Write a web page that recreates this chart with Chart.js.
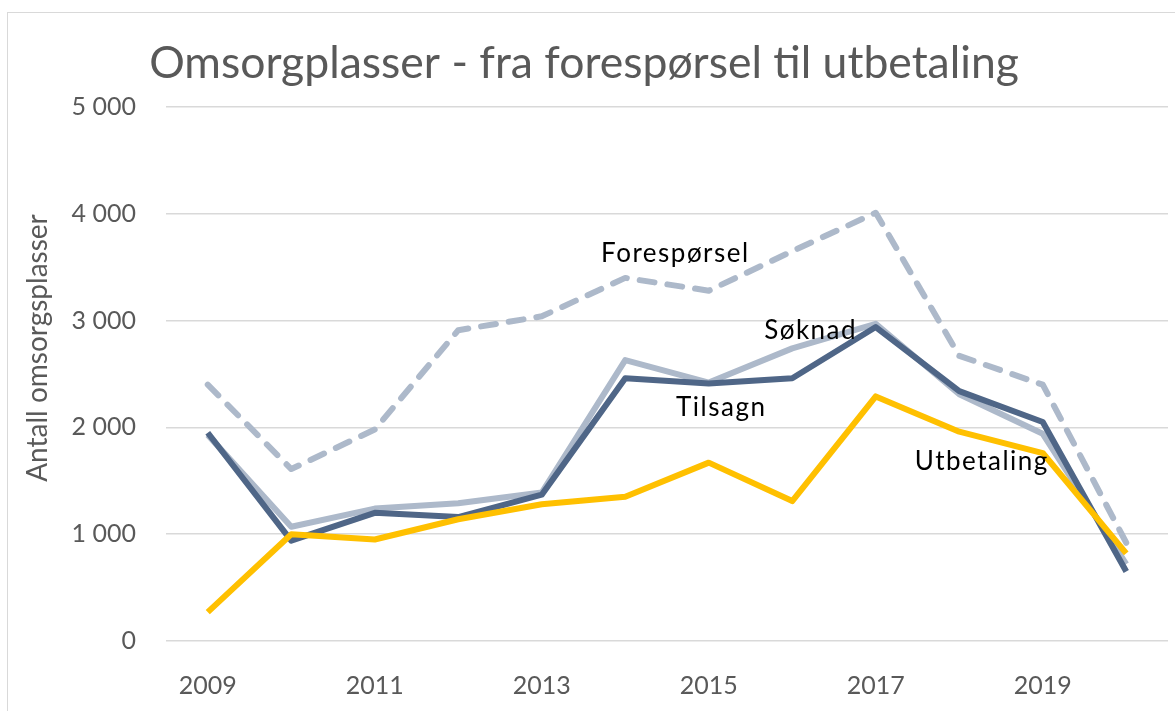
<!DOCTYPE html>
<html lang="nb">
<head>
    <meta charset="UTF-8">
    <title>Omsorgplasser - fra forespørsel til utbetaling</title>
    <script src="https://cdn.jsdelivr.net/npm/chart.js"></script>
    <style>
        html, body { margin: 0; padding: 0; background: #ffffff; overflow: hidden; }
        .frame {
            position: absolute; left: 7px; top: 12px;
            width: 1300px; height: 900px;
            border: 1.5px solid #d9d9d9;
        }
        #chart { position: absolute; left: 0; top: 0; }
    </style>
</head>
<body>
    <div class="frame"></div>
    <canvas id="chart" width="1175" height="711"></canvas>

    <script>
        // Data
        const years = ['2009', '2010', '2011', '2012', '2013', '2014', '2015', '2016', '2017', '2018', '2019', '2020'];
        const foresporsel = [2400, 1610, 1980, 2910, 3040, 3400, 3280, 3650, 4010, 2670, 2400, 920];
        const soknad      = [1930, 1070, 1240, 1290, 1390, 2630, 2420, 2740, 2970, 2310, 1940, 720];
        const tilsagn     = [1950, 940, 1200, 1160, 1370, 2460, 2410, 2460, 2940, 2340, 2050, 650];
        const utbetaling  = [270, 1000, 950, 1140, 1280, 1350, 1670, 1310, 2290, 1960, 1760, 820];

        // Series labels written inside the plot (x as category index, y as value)
        const seriesLabels = [
            { text: 'Forespørsel', x: 5.6, y: 3630 },
            { text: 'Søknad', x: 7.22, y: 2905 },
            { text: 'Tilsagn', x: 6.15, y: 2185 },
            { text: 'Utbetaling', x: 9.27, y: 1680 }
        ];

        const FONT = 'Lato, "Open Sans", sans-serif';
        const GREY = '#595959';

        const inlineLabels = {
            id: 'inlineLabels',
            afterDatasetsDraw(chart) {
                const { ctx, scales: { x, y }, chartArea } = chart;
                ctx.save();
                ctx.fillStyle = '#000000';
                ctx.font = '26px ' + FONT;
                ctx.textAlign = 'center';
                ctx.textBaseline = 'middle';
                ctx.letterSpacing = '1.5px';
                seriesLabels.forEach(l => {
                    const px = x.getPixelForValue(0) + l.x * (x.getPixelForValue(1) - x.getPixelForValue(0));
                    ctx.fillText(l.text, px, y.getPixelForValue(l.y));
                });
                ctx.restore();

                // y axis title
                ctx.save();
                ctx.fillStyle = GREY;
                ctx.font = '28px ' + FONT;
                ctx.textAlign = 'center';
                ctx.textBaseline = 'middle';
                ctx.translate(38, (chartArea.top + chartArea.bottom) / 2 - 26);
                ctx.rotate(-Math.PI / 2);
                ctx.fillText('Antall omsorgsplasser', 0, 0);
                ctx.restore();
            }
        };

        const ctx = document.getElementById('chart').getContext('2d');
        new Chart(ctx, {
            type: 'line',
            data: {
                labels: years,
                datasets: [
                    {
                        label: 'Forespørsel',
                        data: foresporsel,
                        borderColor: '#adb9ca',
                        borderWidth: 6,
                        borderDash: [15, 13],
                        borderCapStyle: 'round',
                        order: 3
                    },
                    {
                        label: 'Søknad',
                        data: soknad,
                        borderColor: '#adb9ca',
                        borderWidth: 6,
                        order: 2
                    },
                    {
                        label: 'Tilsagn',
                        data: tilsagn,
                        borderColor: '#4f6687',
                        borderWidth: 6,
                        order: 1
                    },
                    {
                        label: 'Utbetaling',
                        data: utbetaling,
                        borderColor: '#ffc000',
                        borderWidth: 6,
                        order: 0
                    }
                ]
            },
            options: {
                responsive: false,
                animation: false,
                elements: {
                    point: { radius: 0, hoverRadius: 0 },
                    line: { tension: 0, borderJoinStyle: 'round', fill: false }
                },
                layout: { padding: { top: 0, left: 0, right: 7, bottom: 0 } },
                scales: {
                    x: {
                        offset: true,
                        grid: { display: false, drawTicks: false },
                        border: { display: false },
                        afterFit: s => { s.height = 70; },
                        ticks: {
                            autoSkip: false,
                            maxRotation: 0,
                            padding: 30,
                            color: GREY,
                            font: { family: FONT, size: 25 },
                            callback: (v, i) => (i % 2 === 0 ? years[i] : '')
                        }
                    },
                    y: {
                        min: 0,
                        max: 5000,
                        afterFit: s => { s.width = 166; },
                        grid: { color: '#d9d9d9', lineWidth: 1.5, drawTicks: false },
                        border: { display: false },
                        ticks: {
                            stepSize: 1000,
                            padding: 30,
                            color: GREY,
                            font: { family: FONT, size: 25 },
                            callback: v => String(v).replace(/\B(?=(\d{3})+(?!\d))/g, ' ')
                        }
                    }
                },
                plugins: {
                    legend: { display: false },
                    tooltip: { enabled: false },
                    title: {
                        display: true,
                        text: 'Omsorgplasser - fra forespørsel til utbetaling',
                        color: GREY,
                        font: { family: FONT, size: 44.5, weight: 'normal' },
                        padding: { top: 37, bottom: 16.6 }
                    }
                }
            },
            plugins: [inlineLabels]
        });
    </script>
</body>
</html>
